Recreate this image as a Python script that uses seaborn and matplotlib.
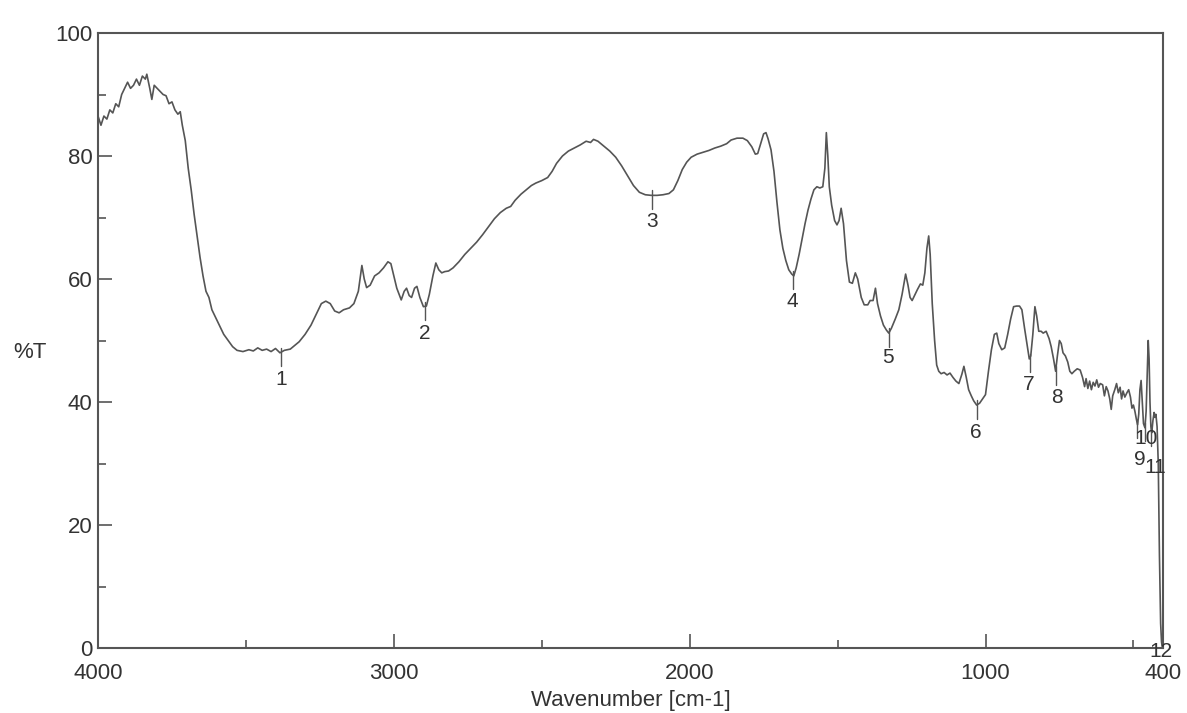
import numpy as np
import pandas as pd
import matplotlib
matplotlib.use("Agg")
import matplotlib.pyplot as plt
import seaborn as sns
from matplotlib.ticker import MultipleLocator, FixedLocator

# ---------------- data ----------------
wavenumber = [
    4000, 3990, 3980, 3970, 3960, 3950, 3940, 3930, 3920, 3910, 3900, 3890, 3880, 3870,
    3860, 3850, 3840, 3835, 3825, 3818, 3810, 3800, 3790, 3780, 3770, 3760, 3750, 3740,
    3730, 3722, 3715, 3705, 3695, 3685, 3675, 3665, 3655, 3645, 3635, 3625, 3615, 3605,
    3595, 3585, 3575, 3560, 3545, 3530, 3510, 3490, 3475, 3460, 3445, 3430, 3415, 3400,
    3385, 3370, 3350, 3335, 3320, 3300, 3280, 3260, 3245, 3230, 3215, 3200, 3185, 3170,
    3150, 3135, 3120, 3108, 3100, 3092, 3080, 3065, 3050, 3035, 3020, 3010, 3000, 2990,
    2975, 2965, 2957, 2948, 2940, 2930, 2922, 2912, 2900, 2890, 2880, 2868, 2858, 2848,
    2838, 2828, 2815, 2800, 2780, 2760, 2740, 2720, 2700, 2680, 2660, 2640, 2620, 2605,
    2590, 2570, 2550, 2535, 2520, 2500, 2480, 2465, 2450, 2430, 2410, 2390, 2370, 2350,
    2335, 2325, 2310, 2290, 2270, 2250, 2230, 2210, 2190, 2170, 2150, 2130, 2110, 2090,
    2070, 2055, 2040, 2025, 2010, 1995, 1975, 1955, 1935, 1915, 1895, 1875, 1860, 1840,
    1820, 1805, 1790, 1778, 1770, 1760, 1750, 1742, 1735, 1725, 1715, 1705, 1695, 1685,
    1675, 1665, 1655, 1648, 1640, 1630, 1620, 1610, 1600, 1590, 1580, 1570, 1560, 1550,
    1543, 1538, 1533, 1528, 1520, 1510, 1502, 1495, 1488, 1480, 1470, 1460, 1450, 1440,
    1432, 1420, 1410, 1398, 1390, 1380, 1372, 1365, 1355, 1345, 1335, 1327, 1318, 1305,
    1293, 1282, 1270, 1262, 1255, 1248, 1240, 1230, 1220, 1212, 1205, 1198, 1192, 1187,
    1180, 1172, 1165, 1158, 1150, 1140, 1130, 1120, 1110, 1100, 1090, 1080, 1073, 1065,
    1057, 1048, 1040, 1030, 1020, 1010, 1000, 990, 980, 970, 962, 955, 945, 935,
    925, 915, 905, 895, 885, 877, 868, 860, 852, 847, 840, 833, 827, 820,
    812, 805, 795, 785, 778, 770, 763, 757, 750, 744, 738, 730, 722, 715,
    708, 700, 690, 680, 672, 665, 660, 654, 648, 642, 636, 630, 624, 618,
    612, 604, 598, 592, 586, 580, 575, 570, 563, 557, 551, 545, 540, 535,
    529, 522, 516, 510, 505, 500, 495, 490, 486, 482, 478, 474, 470, 466,
    461, 457, 453, 450, 447, 444, 441, 438, 434, 430, 427, 424, 420, 416,
    412, 408, 405, 403,
]
transmittance = [
    86.5, 85.0, 86.5, 86.0, 87.5, 87.0, 88.5, 88.0, 90.0, 91.0, 92.0, 91.0, 91.5, 92.5,
    91.5, 93.0, 92.5, 93.3, 91.0, 89.2, 91.5, 91.0, 90.5, 90.0, 89.8, 88.5, 88.8, 87.5,
    86.8, 87.2, 85.0, 82.5, 78.0, 74.5, 70.5, 67.0, 63.5, 60.5, 58.0, 57.0, 55.0, 54.0,
    53.0, 52.0, 51.0, 50.0, 49.0, 48.4, 48.2, 48.5, 48.3, 48.8, 48.4, 48.6, 48.2, 48.7,
    48.0, 48.4, 48.6, 49.2, 49.8, 51.0, 52.5, 54.5, 56.0, 56.4, 56.0, 54.8, 54.5, 55.0,
    55.3, 56.0, 58.0, 62.2, 60.0, 58.6, 59.0, 60.5, 61.0, 61.8, 62.8, 62.5, 60.5, 58.5,
    56.6, 58.0, 58.5, 57.3, 57.0, 58.5, 58.8, 57.0, 55.5, 55.6, 57.5, 60.5, 62.6, 61.5,
    61.0, 61.2, 61.3, 61.8, 62.8, 64.0, 65.0, 66.0, 67.2, 68.5, 69.8, 70.8, 71.5, 71.8,
    72.8, 73.8, 74.6, 75.2, 75.6, 76.0, 76.5, 77.5, 78.8, 80.0, 80.8, 81.3, 81.8, 82.4,
    82.2, 82.7, 82.4, 81.6, 80.8, 79.8, 78.4, 76.8, 75.2, 74.1, 73.7, 73.6, 73.6, 73.7,
    73.9, 74.5, 76.0, 77.8, 79.0, 79.8, 80.3, 80.6, 80.9, 81.3, 81.6, 82.0, 82.6, 82.9,
    82.9, 82.5, 81.5, 80.3, 80.4, 82.0, 83.6, 83.8, 82.8, 81.0, 77.5, 72.5, 68.0, 65.0,
    63.0, 61.5, 60.8, 60.5, 61.8, 64.0, 66.5, 69.0, 71.2, 73.0, 74.5, 75.0, 74.8, 75.0,
    78.0, 83.8, 80.0, 75.0, 72.0, 69.5, 68.8, 69.5, 71.5, 69.0, 63.0, 59.5, 59.3, 61.0,
    60.0, 57.0, 55.8, 55.8, 56.5, 56.5, 58.5, 56.0, 54.0, 52.5, 51.7, 51.2, 52.0, 53.5,
    55.0, 57.5, 60.8, 59.0, 57.0, 56.5, 57.3, 58.3, 59.2, 59.0, 61.0, 65.0, 67.0, 64.0,
    56.0, 50.0, 46.0, 45.0, 44.6, 44.8, 44.4, 44.7, 44.0, 43.4, 43.0, 44.5, 45.8, 44.0,
    42.0, 41.0, 40.2, 39.5, 39.8, 40.5, 41.2, 45.0, 48.5, 51.0, 51.2, 49.5, 48.5, 48.8,
    51.0, 53.5, 55.5, 55.6, 55.6, 55.0, 52.0, 49.5, 47.0, 47.5, 51.0, 55.5, 54.0, 51.5,
    51.5, 51.2, 51.5, 50.3, 49.0, 47.0, 45.0, 47.5, 50.0, 49.5, 48.0, 47.5, 46.5, 45.0,
    44.6, 45.0, 45.4, 45.2, 44.0, 42.5, 43.8, 42.2, 43.4, 42.0, 43.2, 42.6, 43.6, 42.4,
    43.0, 42.8, 41.0, 42.5, 41.8, 40.5, 38.8, 41.0, 42.0, 43.0, 41.5, 42.4, 40.5, 41.8,
    40.8, 41.5, 42.0, 40.8, 39.0, 39.5, 38.5, 37.2, 36.3, 38.0, 42.0, 43.5, 40.0, 36.5,
    35.8, 38.5, 45.0, 50.0, 47.0, 40.0, 36.0, 35.0, 37.0, 38.3, 37.5, 38.0, 36.0, 30.0,
    15.0, 4.0, 1.0, 0.3,
]

# peak annotations
peak_labels = ["1", "2", "3", "4", "5", "6", "7", "8", "9", "10", "11", "12"]
peak_wn = [3382, 2896, 2127, 1650, 1327, 1030, 850, 762, 488, 462, 439, 404]
peak_T = [48.0, 55.5, 73.6, 60.5, 51.2, 39.5, 47.0, 45.0, 36.3, 35.8, 35.0, 0.3]
label_wn = [3382, 2896, 2127, 1654, 1330, 1033, 854, 760, 479, 456, 425, 408]
label_T = [43.6, 51.2, 69.3, 56.3, 47.2, 35.1, 42.9, 40.7, 30.7, 34.1, 29.3, -0.6]

x_major = [4000, 3000, 2000, 1000, 400]
x_minor = [3500, 2500, 1500, 500]
y_major = [0, 20, 40, 60, 80, 100]

# ---------------- plot ----------------
sns.set_theme(style="white")
plt.rcParams["font.family"] = ["Liberation Sans", "DejaVu Sans"]

df = pd.DataFrame({"Wavenumber": wavenumber, "T": transmittance})

fig = plt.figure(figsize=(11.87, 7.13), dpi=100)
fig.patch.set_facecolor("white")
ax = fig.add_axes([98 / 1187, 1 - 648 / 713, (1163 - 98) / 1187, (648 - 33) / 713])
ax.set_facecolor("white")

line_color = "#555555"
sns.lineplot(data=df, x="Wavenumber", y="T", ax=ax, sort=False, estimator=None,
             color=line_color, linewidth=1.2)

ax.set_xlim(4000, 400)
ax.set_ylim(0, 100)

ax.xaxis.set_major_locator(FixedLocator(x_major))
ax.xaxis.set_minor_locator(FixedLocator(x_minor))
ax.set_xticklabels([str(v) for v in x_major])
ax.yaxis.set_major_locator(FixedLocator(y_major))
ax.yaxis.set_minor_locator(MultipleLocator(10))
ax.set_yticklabels([str(v) for v in y_major])

ax.tick_params(axis="both", which="both", direction="in", colors="#555555",
               labelcolor="#333333", labelsize=16, bottom=True, left=True,
               top=False, right=False)
ax.tick_params(axis="both", which="major", length=10, width=1.2)
ax.tick_params(axis="both", which="minor", length=6, width=1.2)
ax.tick_params(axis="x", which="major", pad=11)
ax.tick_params(axis="y", which="major", pad=4)

for s in ax.spines.values():
    s.set_visible(True)
    s.set_color("#555555")
    s.set_linewidth(1.5)

ax.set_xlabel("Wavenumber [cm-1]", fontsize=16, color="#333333", labelpad=4)
ax.set_ylabel("")
fig.text(13 / 1187, 1 - 352 / 713, "%T", fontsize=16, color="#333333",
         ha="left", va="center")

# peak markers
for lab, pw, pt, lw, lt in zip(peak_labels, peak_wn, peak_T, label_wn, label_T):
    if lab != "12":
        ax.plot([pw, pw], [pt + 0.8, pt - 2.2], color=line_color, linewidth=1.0)
    ax.text(lw, lt, lab, fontsize=15, color="#333333", ha="center", va="center",
            clip_on=False)

ax.grid(False)
fig.savefig("out.png", dpi=100, facecolor="white")
